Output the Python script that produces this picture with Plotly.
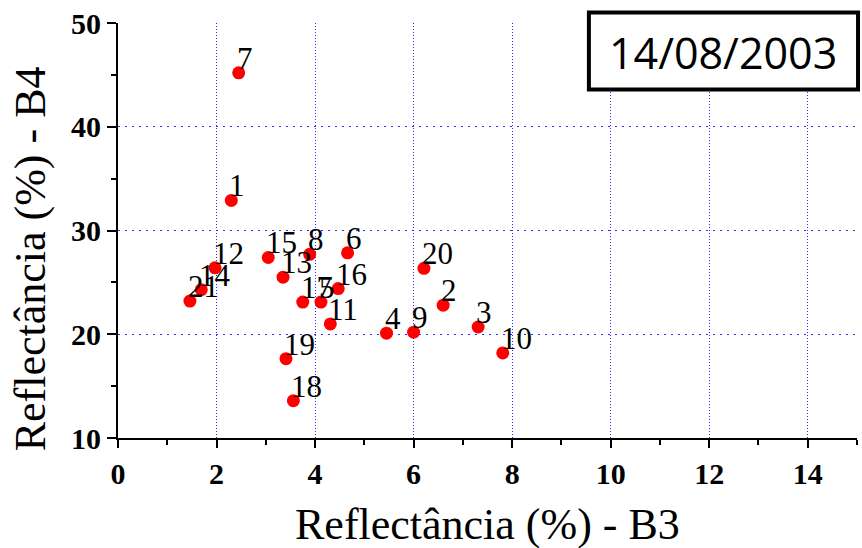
import plotly.graph_objects as go

# ---- data ----
point_labels = ["1", "2", "3", "4", "5", "6", "7", "8", "9", "10", "11",
                "12", "13", "14", "15", "16", "17", "18", "19", "20", "21"]
b3 = [2.30, 6.60, 7.31, 5.45, 4.12, 4.66, 2.45, 3.89, 6.00, 7.81, 4.31,
      1.97, 3.35, 1.69, 3.05, 4.47, 3.75, 3.56, 3.41, 6.21, 1.46]
b4 = [32.9, 22.8, 20.7, 20.1, 23.1, 27.85, 45.2, 27.7, 20.2, 18.2, 21.0,
      26.4, 25.5, 24.3, 27.4, 24.4, 23.1, 13.6, 17.65, 26.35, 23.2]

x_title = "Reflectância (%) - B3"
y_title = "Reflectância (%) - B4"
date_text = "14/08/2003"

SERIF = "Liberation Serif, Times New Roman, serif"

fig = go.Figure()
fig.add_trace(go.Scatter(
    x=b3, y=b4, mode="markers",
    marker=dict(color="#ff0000", size=13, line=dict(width=0)),
    hoverinfo="skip", showlegend=False,
))

annotations = []
for lab, xv, yv in zip(point_labels, b3, b4):
    annotations.append(dict(
        x=xv, y=yv, xref="x", yref="y", text=lab, showarrow=False,
        xanchor="left", yanchor="bottom", xshift=-4, yshift=-5,
        font=dict(family=SERIF, size=31, color="black"),
    ))

annotations.append(dict(
    x=0.5, y=-0.145, xref="paper", yref="paper", text=x_title, showarrow=False,
    xanchor="center", yanchor="top",
    font=dict(family=SERIF, size=44, color="black"),
))
annotations.append(dict(
    x=-0.118, y=0.4325, xref="paper", yref="paper", text=y_title, showarrow=False,
    xanchor="center", yanchor="middle", textangle=-90,
    font=dict(family=SERIF, size=44, color="black"),
))
annotations.append(dict(
    x=0.819, y=0.929, xref="paper", yref="paper", text=date_text, showarrow=False,
    xanchor="center", yanchor="middle",
    font=dict(family="Open Sans, Noto Sans, sans-serif", size=43, color="black"),
))

tickfont = dict(family=SERIF, size=30, color="black", weight="bold")
GRID = "#2a2aff"

fig.update_layout(
    width=862, height=548,
    margin=dict(l=118, r=5, t=23, b=110),
    paper_bgcolor="white", plot_bgcolor="white",
    showlegend=False,
    xaxis=dict(
        range=[0, 15], tick0=0, dtick=2, ticks="outside", ticklen=8, tickwidth=2,
        tickcolor="black", showline=True, linecolor="black", linewidth=2,
        showgrid=True, gridcolor=GRID, griddash="1px,2px", gridwidth=1,
        zeroline=False, tickfont=tickfont,
        minor=dict(dtick=1, tick0=0, ticks="outside", ticklen=5, tickwidth=2,
                   tickcolor="black", showgrid=False),
    ),
    yaxis=dict(
        range=[10, 50], tick0=10, dtick=10, ticks="outside", ticklen=9, tickwidth=2,
        tickcolor="black", showline=True, linecolor="black", linewidth=2,
        showgrid=True, gridcolor=GRID, griddash="2px,5px", gridwidth=1,
        zeroline=False, tickfont=tickfont,
        minor=dict(dtick=5, tick0=10, ticks="outside", ticklen=5, tickwidth=2,
                   tickcolor="black", showgrid=False),
    ),
    shapes=[dict(
        type="rect", xref="paper", yref="paper",
        x0=0.6372, x1=1.0014, y0=0.8397, y1=1.0256,
        line=dict(color="black", width=4), fillcolor="white", layer="above",
    )],
    annotations=annotations,
)

fig.write_html("out.html")
